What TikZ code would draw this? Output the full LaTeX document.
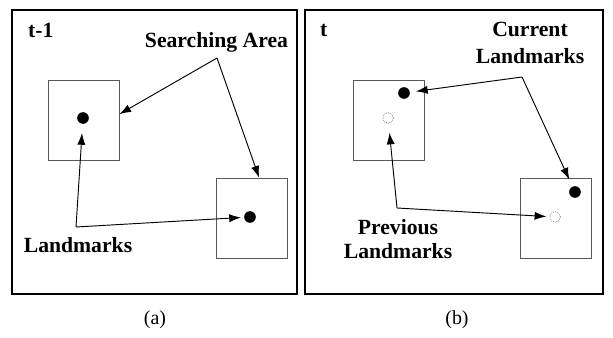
\documentclass[tikz,border=0pt]{standalone}
\usepackage{fontspec}
\setmainfont{Liberation Serif}
\usetikzlibrary{arrows.meta}
\tikzset{
  panel/.style={draw,line width=0.9pt,minimum width=8.55cm,minimum height=8.52cm,inner sep=0pt},
  searchbox/.style={draw=black!65,line width=0.6pt,minimum width=2.13cm,minimum height=2.4cm,inner sep=0pt},
  fulldot/.style={circle,fill=black,minimum size=0.35cm,inner sep=0pt},
  emptydot/.style={circle,draw=black!60,densely dotted,line width=0.6pt,fill=white,minimum size=0.32cm,inner sep=0pt},
  lbl/.style={font=\fontsize{18.5}{21}\selectfont\bfseries,align=center,inner sep=0pt},
  pointer/.style={line width=0.8pt,-{Latex[length=10pt,width=7pt]}},
}
\begin{document}
\begin{tikzpicture}[x=0.03cm,y=-0.03cm]
\useasboundingbox (0,0) rectangle (613,338);
% (a) frame t-1
\node [panel] (panelA) at (154.5,152) {};
\node [lbl,anchor=base west] (tA) at (28,38) {t-1};
\node [searchbox] (boxA) at (83.5,120.5) {};
\node [searchbox] (boxB) at (252,218) {};
\node [fulldot] (dotA) at (83,118) {};
\node [fulldot] (dotB) at (250,217) {};
\node [lbl,anchor=north] (searchlbl) at (216.5,32) {Searching Area};
\coordinate (searchtip) at (217,58);
\draw [pointer] (searchtip) -- (boxA.10);
\draw [pointer] (searchtip) -- (boxB.80);
\node [lbl,anchor=north] (lmlbl) at (78,237) {Landmarks};
\coordinate (lmtip) at (76,227);
\draw [pointer,shorten >=0.27cm] (lmtip) -- (dotA);
\draw [pointer,shorten >=0.09cm] (lmtip) -- (dotB);
\node [font=\fontsize{17}{20}\selectfont] (capA) at (155,320) {(a)};
% (b) frame t
\node [panel,minimum width=8.94cm] (panelB) at (454,152) {};
\node [lbl,anchor=base west] (tB) at (320,37) {t};
\node [searchbox] (boxC) at (388.5,120.5) {};
\node [searchbox] (boxD) at (556,218) {};
\node [emptydot] (prevC) at (388,118) {};
\node [emptydot] (prevD) at (555,217) {};
\node [fulldot] (curC) at (404,93) {};
\node [fulldot] (curD) at (575,192) {};
\node [lbl,anchor=north] (curlbl) at (530,22) {Current\\[2pt]Landmarks};
\coordinate (curtip) at (522,77);
\draw [pointer,shorten >=0.18cm] (curtip) -- (curC);
\draw [pointer,shorten >=0.23cm] (curtip) -- (curD);
\node [lbl,anchor=north] (prevlbl) at (398,219) {Previous\\Landmarks};
\coordinate (prevtip) at (397,208);
\draw [pointer,shorten >=0.27cm] (prevtip) -- (prevC);
\draw [pointer,shorten >=0.09cm] (prevtip) -- (prevD);
\node [font=\fontsize{17}{20}\selectfont] (capB) at (457,320) {(b)};
\end{tikzpicture}
\end{document}
